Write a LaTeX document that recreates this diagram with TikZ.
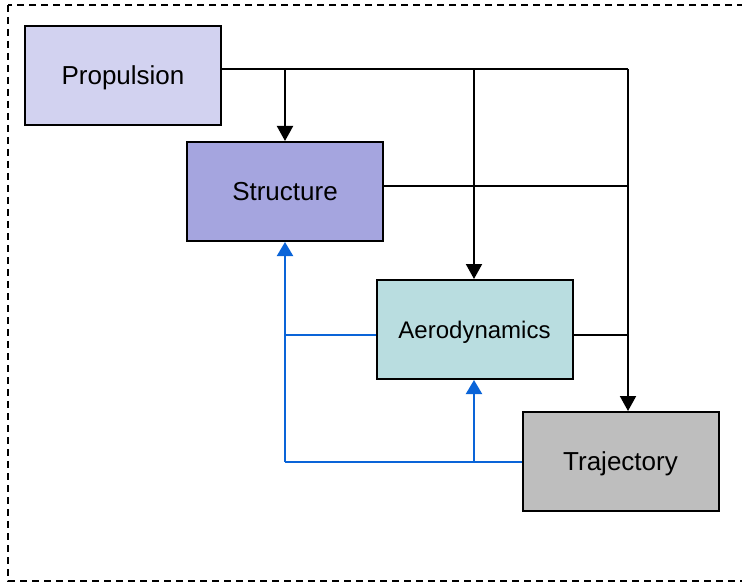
\documentclass[tikz,border=0pt]{standalone}
\usepackage{fontspec}
\setmainfont{Liberation Sans}
\usetikzlibrary{arrows.meta}
\definecolor{propfill}{HTML}{D2D2F0}
\definecolor{strucfill}{HTML}{A5A5DF}
\definecolor{aerofill}{HTML}{B9DDE0}
\definecolor{trajfill}{HTML}{BEBEBE}
\definecolor{linkblue}{HTML}{0A64D8}
\begin{document}
\begin{tikzpicture}[x=1pt,y=-1pt,
  block/.style={draw=black,line width=2pt,minimum width=196pt,minimum height=99pt,
    inner sep=0pt,text height=18.6pt,text depth=0pt,font=\fontsize{26}{30}\selectfont},
  flow/.style={line width=2pt,draw=black},
  arr/.style={-{Triangle[length=15pt,width=16pt]}},
  fb/.style={line width=2pt,draw=linkblue},
  fbarr/.style={fb,-{Triangle[length=14pt,width=16pt]}}]
\useasboundingbox (0,0) rectangle (742,583);
% outer dashed frame (runs past the right edge)
\begin{scope}
\clip (0,0) rectangle (742,583);
\draw[line width=1.5pt,dash pattern=on 7pt off 5pt] (8,5) rectangle (748,581);
\end{scope}
% disciplines
\node[block,fill=propfill]  (prop)  at (123,75.5)  {Propulsion};
\node[block,fill=strucfill] (struc) at (285,191.5) {Structure};
\node[block,fill=aerofill,text height=17.2pt,font=\fontsize{24}{28}\selectfont] (aero) at (474.5,329.5) {Aerodynamics};
\node[block,fill=trajfill]  (traj)  at (620.5,461.5) {Trajectory};
% feed-forward couplings
\coordinate (bus) at (628,69);
\draw[flow] (prop.east |- bus) -- (bus);
\draw[flow,arr] (285,69) -- (struc.north);
\draw[flow,arr] (474,69) -- (aero.north -| 474,0);
\draw[flow,arr] (bus) -- (traj.north -| bus);
\draw[flow] (struc.east |- 0,186) -- (628,186);
\draw[flow] (aero.east |- 0,335) -- (628,335);
% feedback couplings
\coordinate (fbl) at (285,462);
\coordinate (fbm) at (474,462);
\draw[fb] (traj.west |- fbl) -- (fbl);
\draw[fbarr] (fbl) -- (struc.south);
\draw[fbarr] (fbm) -- (aero.south -| fbm);
\draw[fb] (aero.west |- 0,335) -- (285,335);
\end{tikzpicture}
\end{document}
